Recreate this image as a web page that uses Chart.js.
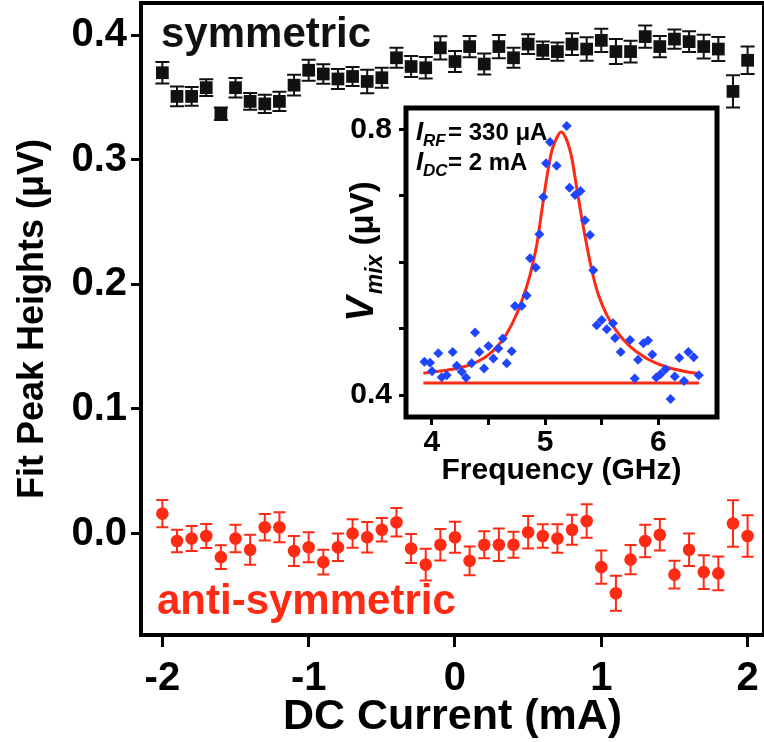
<!DOCTYPE html>
<html>
<head>
<meta charset="utf-8">
<script src="https://cdn.jsdelivr.net/npm/chart.js@4.4.0/dist/chart.umd.min.js"></script>
<style>
  html, body { margin: 0; padding: 0; background: #fff; overflow: hidden; }
  #wrap { position: relative; width: 764px; height: 742px; overflow: hidden; }
  #main { position: absolute; left: 0; top: 0; }
  #inset { position: absolute; left: 320px; top: 95px; }
</style>
</head>
<body>
<div id="wrap">
  <canvas id="main" width="764" height="742"></canvas>
  <canvas id="inset" width="410" height="400"></canvas>
</div>
<script>
// --- main panel: fit peak heights vs DC current ---
const currents = [-2.0, -1.9, -1.8, -1.7, -1.6, -1.5, -1.4, -1.3, -1.2, -1.1,
                  -1.0, -0.9, -0.8, -0.7, -0.6, -0.5, -0.4, -0.3, -0.2, -0.1,
                   0.0,  0.1,  0.2,  0.3,  0.4,  0.5,  0.6,  0.7,  0.8,  0.9,
                   1.0,  1.1,  1.2,  1.3,  1.4,  1.5,  1.6,  1.7,  1.8,  1.9, 2.0];
const symHeights = [0.370, 0.351, 0.351, 0.358, 0.337, 0.358, 0.347, 0.345, 0.347, 0.360,
                    0.372, 0.369, 0.365, 0.367, 0.363, 0.366, 0.382, 0.375, 0.374, 0.390,
                    0.379, 0.391, 0.377, 0.391, 0.382, 0.393, 0.388, 0.387, 0.393, 0.389,
                    0.396, 0.387, 0.387, 0.399, 0.391, 0.397, 0.395, 0.391, 0.389, 0.355, 0.380];
const symErr = [0.0087, 0.008, 0.0076, 0.0067, 0.005, 0.0078, 0.0067, 0.0073, 0.0078, 0.0083,
                0.0084, 0.0078, 0.008, 0.0076, 0.0094, 0.008, 0.008, 0.0084, 0.0087, 0.0094,
                0.0084, 0.0086, 0.0084, 0.0094, 0.008, 0.008, 0.007, 0.0073, 0.0087, 0.0094,
                0.0094, 0.010, 0.0087, 0.009, 0.0086, 0.0078, 0.0084, 0.0096, 0.0096, 0.013, 0.011];
const antiHeights = [0.016, -0.006, -0.004, -0.002, -0.019, -0.004, -0.013, 0.005, 0.005, -0.014,
                     -0.011, -0.023, -0.011, 0.000, -0.003, 0.003, 0.009, -0.012, -0.025, -0.009,
                     -0.003, -0.022, -0.009, -0.009, -0.009, 0.001, -0.002, -0.004, 0.003, 0.010,
                     -0.027, -0.048, -0.021, -0.006, -0.001, -0.033, -0.013, -0.031, -0.032, 0.008, -0.002];
const antiErr = [0.011, 0.009, 0.010, 0.0096, 0.0096, 0.011, 0.012, 0.0107, 0.012, 0.012,
                 0.012, 0.010, 0.011, 0.0115, 0.0123, 0.0094, 0.0115, 0.0116, 0.0127, 0.0127,
                 0.0124, 0.0116, 0.0108, 0.013, 0.0104, 0.013, 0.0094, 0.0114, 0.012, 0.0135,
                 0.0134, 0.014, 0.0118, 0.013, 0.0127, 0.0112, 0.013, 0.0136, 0.0136, 0.0187, 0.0167];
const xTicks = [-2, -1, 0, 1, 2];
const yTicks = [0.0, 0.1, 0.2, 0.3, 0.4];

// --- inset: mixing voltage vs frequency ---
const freqs = [3.935, 3.985, 4.003, 4.058, 4.088, 4.132, 4.185, 4.221, 4.265, 4.303,
               4.353, 4.382, 4.420, 4.462, 4.500, 4.544, 4.588, 4.627, 4.662, 4.706,
               4.735, 4.794, 4.838, 4.868, 4.918, 4.950, 4.985, 5.009, 5.044, 5.103,
               5.192, 5.216, 5.265, 5.313, 5.353, 5.397, 5.426, 5.456, 5.500, 5.545,
               5.600, 5.618, 5.668, 5.750, 5.792, 5.821, 5.868, 5.909, 5.947, 5.982,
               6.019, 6.064, 6.108, 6.145, 6.185, 6.227, 6.265, 6.313, 6.357];
const vmix = [0.450, 0.4485, 0.436, 0.463, 0.427, 0.430, 0.465, 0.444, 0.435, 0.426,
              0.448, 0.494, 0.465, 0.440, 0.474, 0.455, 0.470, 0.485, 0.448, 0.466,
              0.534, 0.534, 0.550, 0.606, 0.592, 0.642, 0.698, 0.749, 0.781, 0.745,
              0.805, 0.712, 0.701, 0.707, 0.663, 0.641, 0.588, 0.505, 0.513, 0.499,
              0.508, 0.486, 0.465, 0.483, 0.425, 0.453, 0.478, 0.482, 0.461, 0.4265,
              0.4315, 0.439, 0.394, 0.428, 0.456, 0.421, 0.465, 0.457, 0.430];
const fitFreq = [3.926, 4.206, 4.353, 4.500, 4.618, 4.706, 4.794, 4.868, 4.927, 4.971,
                 5.015, 5.059, 5.103, 5.141, 5.191, 5.236, 5.280, 5.324, 5.368, 5.412,
                 5.471, 5.545, 5.633, 5.735, 5.883, 6.059, 6.236, 6.359];
const fitV = [0.433, 0.4395, 0.4465, 0.4605, 0.481, 0.506, 0.541, 0.581, 0.626, 0.6765,
              0.7267, 0.767, 0.787, 0.796, 0.784, 0.757, 0.7116, 0.6664, 0.626, 0.5886,
              0.551, 0.5208, 0.4958, 0.4756, 0.4566, 0.443, 0.4355, 0.432];
const baseFreq = [3.926, 6.359];
const baseV = [0.418, 0.418];
const insetXTicks = [4, 4.5, 5, 5.5, 6];
const insetXLabels = ['4', '', '5', '', '6'];
const insetYTicks = [0.4, 0.5, 0.6, 0.7, 0.8];
const insetYLabels = ['0.4', '', '', '', '0.8'];
const noteRF = '= 330 μA';
const noteDC = '= 2 mA';

const FONT = '"Liberation Sans", Arial, Helvetica, sans-serif';
const RED = '#ff2a14';
const BLUE = '#1f45ff';
Chart.defaults.font.family = FONT;
Chart.defaults.color = '#000';

const toPts = (xs, ys) => xs.map((x, i) => ({ x: x, y: ys[i] }));

// fixed axis sizes, and no extra room kept for the end labels
const fixSize = (prop, px) => s => {
    s[prop] = px;
    s.paddingTop = 0; s.paddingBottom = 0;
    s.paddingLeft = 0; s.paddingRight = 0;
};

// error bars, drawn under the markers
const errorBars = {
    id: 'errorBars',
    beforeDatasetsDraw(chart) {
        const ctx = chart.ctx;
        const yScale = chart.scales.y;
        chart.data.datasets.forEach((ds, i) => {
            if (!ds.errors) return;
            const meta = chart.getDatasetMeta(i);
            ctx.save();
            ctx.strokeStyle = ds.errColor;
            ctx.lineWidth = 2;
            meta.data.forEach((pt, j) => {
                const v = ds.data[j].y;
                const top = yScale.getPixelForValue(v + ds.errors[j]);
                const bot = yScale.getPixelForValue(v - ds.errors[j]);
                const c = ds.capHalf;
                ctx.beginPath();
                ctx.moveTo(pt.x, top); ctx.lineTo(pt.x, bot);
                ctx.moveTo(pt.x - c, top); ctx.lineTo(pt.x + c, top);
                ctx.moveTo(pt.x - c, bot); ctx.lineTo(pt.x + c, bot);
                ctx.stroke();
            });
            ctx.restore();
        });
    }
};

// box round the plot area (white inside if asked)
const frame = {
    id: 'frame',
    beforeDatasetsDraw(chart, args, opts) {
        if (!opts.fill) return;
        const a = chart.chartArea;
        chart.ctx.save();
        chart.ctx.fillStyle = '#fff';
        chart.ctx.fillRect(a.left, a.top, a.width, a.height);
        chart.ctx.restore();
    },
    afterDatasetsDraw(chart, args, opts) {
        const a = chart.chartArea;
        const ctx = chart.ctx;
        ctx.save();
        ctx.strokeStyle = '#000';
        ctx.lineWidth = opts.width;
        ctx.strokeRect(a.left, a.top, a.width, a.height);
        ctx.restore();
    }
};

const seriesLabels = {
    id: 'seriesLabels',
    afterDraw(chart) {
        const { ctx, chartArea: a } = chart;
        ctx.save();
        ctx.font = 'bold 42px ' + FONT;
        ctx.textBaseline = 'alphabetic';
        ctx.fillStyle = '#111';
        ctx.fillText('symmetric', a.left + 20, a.top + 44);
        ctx.fillStyle = RED;
        ctx.fillText('anti-symmetric', a.left + 16, a.bottom - 21);
        ctx.restore();
    }
};

new Chart(document.getElementById('main'), {
    type: 'scatter',
    data: {
        datasets: [{
            label: 'symmetric',
            data: toPts(currents, symHeights),
            errors: symErr, errColor: '#111', capHalf: 7,
            pointStyle: 'rect', pointRadius: 9, pointHoverRadius: 9,
            backgroundColor: '#111', borderColor: '#111', borderWidth: 0
        }, {
            label: 'anti-symmetric',
            data: toPts(currents, antiHeights),
            errors: antiErr, errColor: RED, capHalf: 6,
            pointStyle: 'circle', pointRadius: 6.3, pointHoverRadius: 6.3,
            backgroundColor: RED, borderColor: RED, borderWidth: 0
        }]
    },
    options: {
        responsive: false,
        animation: false,
        // right edge of the box sits just past the picture, as in the source
        layout: { autoPadding: false, padding: { top: 3, right: -3, left: 0, bottom: 0 } },
        plugins: {
            legend: { display: false },
            tooltip: { enabled: false },
            frame: { width: 4, fill: false }
        },
        scales: {
            x: {
                type: 'linear', min: -2.146, max: 2.112,
                afterFit: fixSize('height', 107),
                afterBuildTicks: s => { s.ticks = xTicks.map(v => ({ value: v })); },
                grid: { drawOnChartArea: false, tickLength: 12, tickWidth: 3, tickColor: '#000' },
                border: { display: false },
                ticks: { font: { size: 40, weight: 'bold' }, padding: 8, maxRotation: 0, autoSkip: false,
                         callback: v => String(v) },
                title: { display: true, text: 'DC Current (mA)',
                         font: { size: 43, weight: 'bold', lineHeight: 1 }, padding: { top: 0, bottom: 3 } }
            },
            y: {
                type: 'linear', min: -0.0815, max: 0.426,
                afterFit: fixSize('width', 141),
                afterBuildTicks: s => { s.ticks = yTicks.map(v => ({ value: v })); },
                grid: { drawOnChartArea: false, tickLength: 10, tickWidth: 3, tickColor: '#000' },
                border: { display: false },
                ticks: { font: { size: 40, weight: 'bold' }, padding: 4, autoSkip: false,
                         callback: v => v.toFixed(1) },
                title: { display: true, text: 'Fit Peak Heights (μV)',
                         font: { size: 36, weight: 'bold', lineHeight: 1 }, padding: { top: 15, bottom: 0 } }
            }
        }
    },
    plugins: [errorBars, frame, seriesLabels]
});

// inset texts with subscripts
const insetTexts = {
    id: 'insetTexts',
    afterDraw(chart) {
        const { ctx, chartArea: a } = chart;
        ctx.save();
        ctx.fillStyle = '#000';
        ctx.textBaseline = 'alphabetic';
        // I_RF / I_DC note
        [['RF', noteRF], ['DC', noteDC]].forEach(([sub, rest], i) => {
            const y = a.top + 32 + i * 30;
            ctx.font = 'italic bold 26px ' + FONT;
            ctx.fillText('I', a.left + 10, y);
            ctx.font = 'italic bold 17px ' + FONT;
            ctx.fillText(sub, a.left + 17, y + 6);
            ctx.font = 'bold 24px ' + FONT;
            ctx.fillText(rest, a.left + 42, y);
        });
        // rotated y title V_mix (μV)
        ctx.translate(a.left - 33, (a.top + a.bottom) / 2 - 10);
        ctx.rotate(-Math.PI / 2);
        const big = 'italic bold 38px ' + FONT;
        const sub = 'italic bold 23px ' + FONT;
        const norm = 'bold 33px ' + FONT;
        ctx.font = big; const wV = ctx.measureText('V').width;
        ctx.font = sub; const wSub = ctx.measureText('mix').width;
        ctx.font = norm; const wRest = ctx.measureText(' (μV)').width;
        let x = -(wV + wSub + wRest) / 2;
        ctx.font = big; ctx.fillText('V', x, 0); x += wV + 2;
        ctx.font = sub; ctx.fillText('mix', x, 9); x += wSub;
        ctx.font = norm; ctx.fillText(' (μV)', x, 0);
        ctx.restore();
    }
};

new Chart(document.getElementById('inset'), {
    type: 'scatter',
    data: {
        datasets: [{
            label: 'data',
            data: toPts(freqs, vmix),
            pointStyle: 'rectRot', pointRadius: 5, pointHoverRadius: 5,
            backgroundColor: BLUE, borderColor: BLUE, borderWidth: 0
        }, {
            label: 'fit',
            data: toPts(fitFreq, fitV),
            showLine: true, pointRadius: 0, borderColor: RED, borderWidth: 3,
            cubicInterpolationMode: 'monotone'
        }, {
            label: 'baseline',
            data: toPts(baseFreq, baseV),
            showLine: true, pointRadius: 0, borderColor: RED, borderWidth: 3
        }]
    },
    options: {
        responsive: false,
        animation: false,
        layout: { autoPadding: false, padding: { top: 13, right: 13, left: 0, bottom: 0 } },
        plugins: {
            legend: { display: false },
            tooltip: { enabled: false },
            frame: { width: 5, fill: true }
        },
        scales: {
            x: {
                type: 'linear', min: 3.773, max: 6.518,
                afterFit: fixSize('height', 78),
                afterBuildTicks: s => { s.ticks = insetXTicks.map(v => ({ value: v })); },
                grid: { drawOnChartArea: false, tickLength: 8, tickWidth: 3, tickColor: '#000' },
                border: { display: false },
                ticks: { font: { size: 30, weight: 'bold' }, padding: 0, maxRotation: 0, autoSkip: false,
                         callback: (v, i) => insetXLabels[i] },
                title: { display: true, text: 'Frequency (GHz)',
                         font: { size: 30, weight: 'bold', lineHeight: 1 }, padding: { top: 0, bottom: 9 } }
            },
            y: {
                type: 'linear', min: 0.367, max: 0.832,
                afterFit: fixSize('width', 86),
                afterBuildTicks: s => { s.ticks = insetYTicks.map(v => ({ value: v })); },
                grid: { drawOnChartArea: false, tickLength: 7, tickWidth: 3, tickColor: '#000' },
                border: { display: false },
                ticks: { font: { size: 30, weight: 'bold' }, padding: 7, autoSkip: false,
                         callback: (v, i) => insetYLabels[i] }
            }
        }
    },
    plugins: [frame, insetTexts]
});
</script>
</body>
</html>
